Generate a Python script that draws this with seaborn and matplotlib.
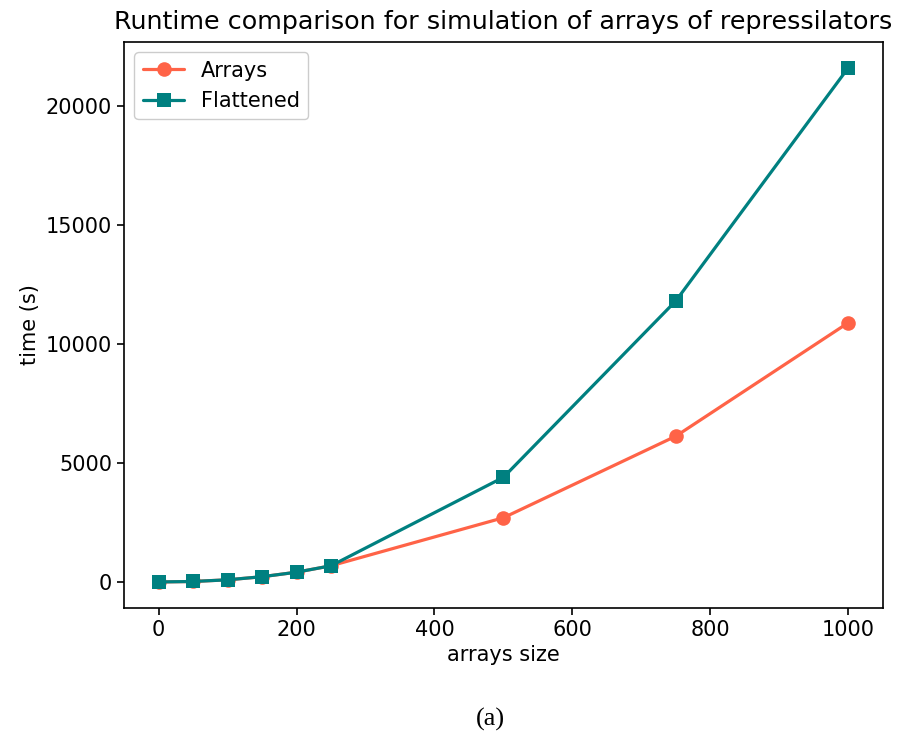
import matplotlib
matplotlib.use("Agg")
import matplotlib.pyplot as plt
import seaborn as sns
import pandas as pd

# Runtime measurements (seconds) per array size
sizes = [0, 50, 100, 150, 200, 250, 500, 750, 1000]
arrays_time = [0, 20, 90, 220, 410, 680, 2700, 6130, 10900]
flattened_time = [0, 20, 90, 220, 410, 680, 4400, 11820, 21620]

series_names = ["Arrays", "Flattened"]
series_colors = ["#FF6347", "#008080"]
series_markers = ["o", "s"]

sns.set_style("white")
plt.rcParams["font.family"] = ["DejaVu Sans"]
plt.rcParams["text.color"] = "black"
plt.rcParams["axes.labelcolor"] = "black"
plt.rcParams["xtick.color"] = "black"
plt.rcParams["ytick.color"] = "black"

fig = plt.figure(figsize=(8.99, 7.38), dpi=100)
ax = fig.add_axes([0.138, 0.1766, 0.844, 0.7665])

for name, vals, col, mk in zip(series_names, [arrays_time, flattened_time],
                               series_colors, series_markers):
    df = pd.DataFrame({"size": sizes, "time": vals})
    sns.lineplot(data=df, x="size", y="time", ax=ax, color=col, marker=mk,
                 markersize=10.5, markeredgewidth=0, linewidth=2.3, label=name)

ax.set_xticks([0, 200, 400, 600, 800, 1000])
ax.set_yticks([0, 5000, 10000, 15000, 20000])
ax.tick_params(axis="both", labelsize=15, length=5.2, width=1.2, direction="out",
               bottom=True, left=True, color="black", labelcolor="black")
for sp in ax.spines.values():
    sp.set_color("black")
    sp.set_linewidth(1.2)

ax.set_xlabel("arrays size", fontsize=15, color="black")
ax.set_ylabel("time (s)", fontsize=15, color="black")
ax.set_title("Runtime comparison for simulation of arrays of repressilators",
             fontsize=18.3, pad=9, color="black")
leg = ax.legend(loc="upper left", fontsize=15, frameon=True, edgecolor="#cccccc",
                fancybox=True, framealpha=1.0)
for t in leg.get_texts():
    t.set_color("black")

fig.text(0.545, 0.025, "(a)", fontsize=19, family="Liberation Serif",
         ha="center", va="center", color="black")

fig.savefig("out.png", dpi=100)
